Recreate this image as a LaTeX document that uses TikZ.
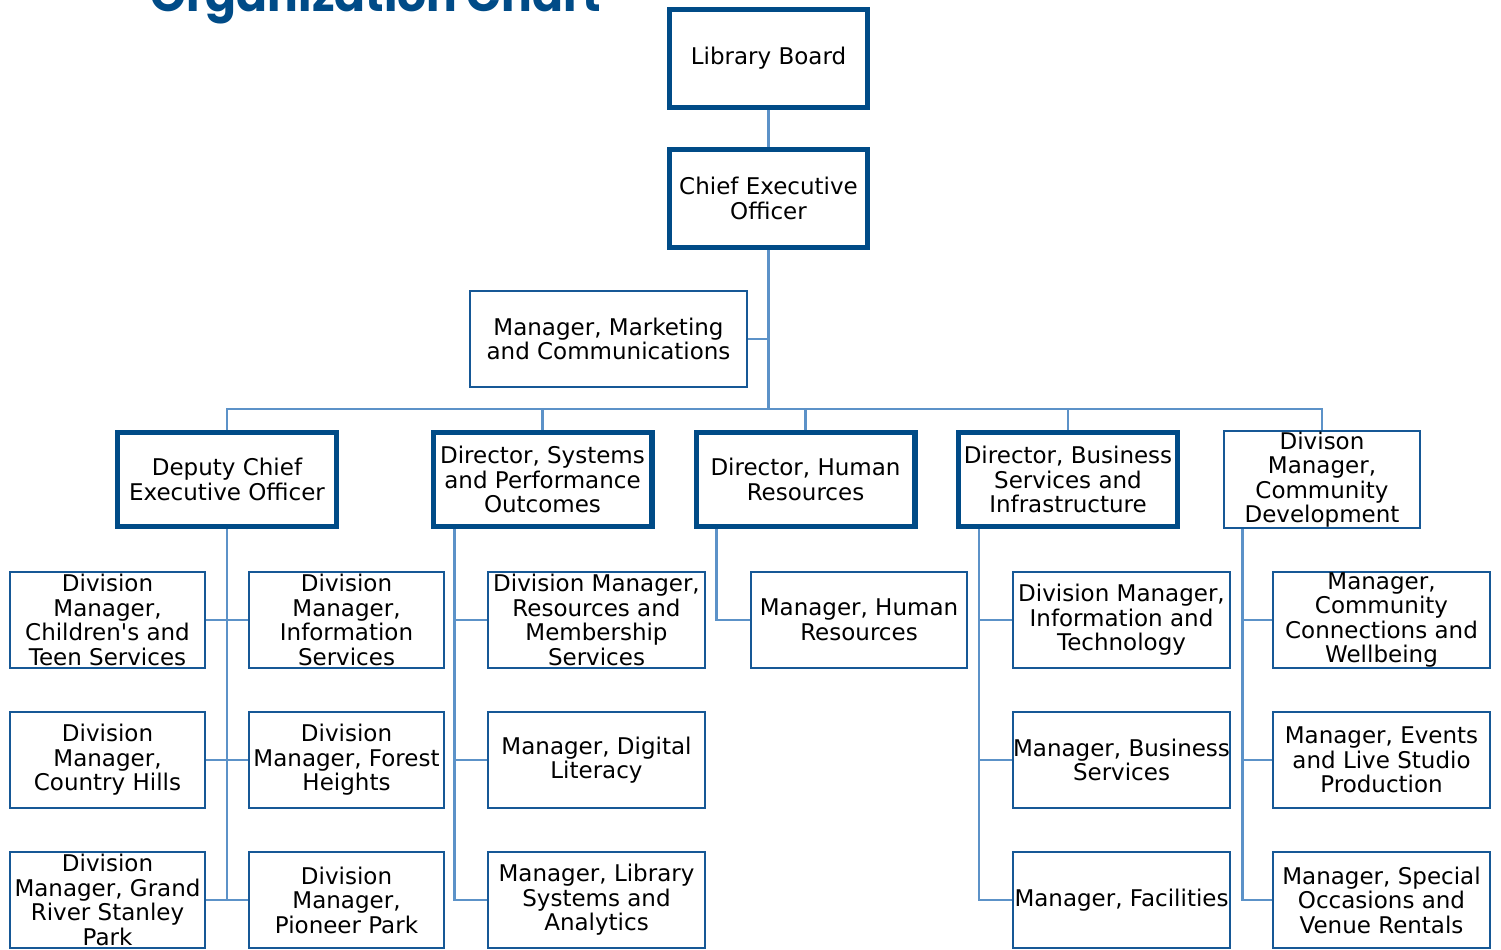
\documentclass[tikz,border=0pt]{standalone}
\usepackage{fontspec}
\setmainfont{DejaVu Sans}
\newfontfamily\titlefont{Poppins}
\usepackage{xcolor}
\usepackage{tikz}
\usetikzlibrary{positioning}
\definecolor{HeadBlue}{RGB}{0,75,135}
\definecolor{BoxBlue}{RGB}{22,88,150}
\definecolor{LineBlue}{RGB}{92,146,200}

\tikzset{
	headbox/.style={draw=HeadBlue, line width=2.7pt, fill=white, align=center, inner sep=0pt,
		minimum width=109.3pt, minimum height=46.8pt, font=\fontsize{11.5}{12.25}\selectfont},
	topbox/.style={headbox, minimum width=98.8pt, minimum height=48.8pt},
	unitbox/.style={draw=BoxBlue, line width=1.3pt, fill=white, align=center, inner sep=0pt,
		minimum width=108.5pt, minimum height=48pt, font=\fontsize{11.5}{12.25}\selectfont},
	narrowbox/.style={unitbox, minimum width=97.5pt},
	conn/.style={draw=LineBlue, line width=1.4pt}
}

\begin{document}
\begin{tikzpicture}[x=0.5pt, y=-0.5pt]
	\useasboundingbox (0,0) rectangle (1501,949);
	\node[anchor=base, text=HeadBlue, font=\titlefont\bfseries\fontsize{22.8}{26}\selectfont] (title) at (376,11) {Organization Chart};
	% top of the chart
	\node[topbox] (board) at (768.5,58.5) {Library Board};
	\node[topbox] (ceo) at (768.5,198.5) {Chief Executive\\Officer};
	\node[unitbox, minimum width=138.5pt] (mkt) at (608.5,339) {Manager, Marketing\\and Communications};
	\coordinate (bus) at (768.5,409);
	% second level
	\node[headbox] (dep) at (227,479.5) {Deputy Chief\\Executive Officer};
	\node[headbox] (sys) at (542.5,479.5) {Director, Systems\\and Performance\\Outcomes};
	\node[headbox] (hr) at (805.5,479.5) {Director, Human\\Resources};
	\node[headbox] (biz) at (1068,479.5) {Director, Business\\Services and\\Infrastructure};
	\node[narrowbox, minimum width=98pt, minimum height=48.5pt] (cdev) at (1322,479.5) {Divison\\Manager,\\Community\\Development};
	% deputy chief executive officer
	\node[narrowbox] (depA1) at (107.5,620) {Division\\Manager,\\Children\textquotesingle s and\\Teen Services};
	\node[narrowbox] (depA2) at (107.5,760) {Division\\Manager,\\Country Hills};
	\node[narrowbox] (depA3) at (107.5,900) {Division\\Manager, Grand\\River Stanley\\Park};
	\node[narrowbox] (depB1) at (346.5,620) {Division\\Manager,\\Information\\Services};
	\node[narrowbox] (depB2) at (346.5,760) {Division\\Manager, Forest\\Heights};
	\node[narrowbox] (depB3) at (346.5,900) {Division\\Manager,\\Pioneer Park};
	% systems and performance
	\node[unitbox] (sys1) at (596.5,620) {Division Manager,\\Resources and\\Membership\\Services};
	\node[unitbox] (sys2) at (596.5,760) {Manager, Digital\\Literacy};
	\node[unitbox] (sys3) at (596.5,900) {Manager, Library\\Systems and\\Analytics};
	% human resources
	\node[unitbox, minimum width=108pt] (hr1) at (859,620) {Manager, Human\\Resources};
	% business services
	\node[unitbox] (biz1) at (1121.5,620) {Division Manager,\\Information and\\Technology};
	\node[unitbox] (biz2) at (1121.5,760) {Manager, Business\\Services};
	\node[unitbox] (biz3) at (1121.5,900) {Manager, Facilities};
	% community development
	\node[unitbox] (cdev1) at (1381.5,620) {Manager,\\Community\\Connections and\\Wellbeing};
	\node[unitbox] (cdev2) at (1381.5,760) {Manager, Events\\and Live Studio\\Production};
	\node[unitbox] (cdev3) at (1381.5,900) {Manager, Special\\Occasions and\\Venue Rentals};

	% connectors
	\draw[conn] (board) -- (ceo);
	\draw[conn] (ceo) -- (bus);
	\draw[conn] (mkt.east) -- (mkt.east -| ceo.south);
	\draw[conn] (dep.north) |- (bus) -| (cdev.north);
	\draw[conn] (sys.north) -- (sys.north |- bus);
	\draw[conn] (hr.north) -- (hr.north |- bus);
	\draw[conn] (biz.north) -- (biz.north |- bus);

	\draw[conn] (dep.south) -- (dep.south |- depA3.east);
	\draw[conn] (depA1.east) -- (depB1.west);
	\draw[conn] (depA2.east) -- (depB2.west);
	\draw[conn] (depA3.east) -- (depB3.west);

	\coordinate (sysbar) at ([xshift=12pt]sys.south west);
	\draw[conn] (sysbar) |- (sys3.west);
	\draw[conn] (sys1.west) -- (sys1.west -| sysbar);
	\draw[conn] (sys2.west) -- (sys2.west -| sysbar);

	\coordinate (hrbar) at ([xshift=11.5pt]hr.south west);
	\draw[conn] (hrbar) |- (hr1.west);

	\coordinate (bizbar) at ([xshift=11.5pt]biz.south west);
	\draw[conn] (bizbar) |- (biz3.west);
	\draw[conn] (biz1.west) -- (biz1.west -| bizbar);
	\draw[conn] (biz2.west) -- (biz2.west -| bizbar);

	\coordinate (cdevbar) at ([xshift=10pt]cdev.south west);
	\draw[conn] (cdevbar) |- (cdev3.west);
	\draw[conn] (cdev1.west) -- (cdev1.west -| cdevbar);
	\draw[conn] (cdev2.west) -- (cdev2.west -| cdevbar);
\end{tikzpicture}
\end{document}
